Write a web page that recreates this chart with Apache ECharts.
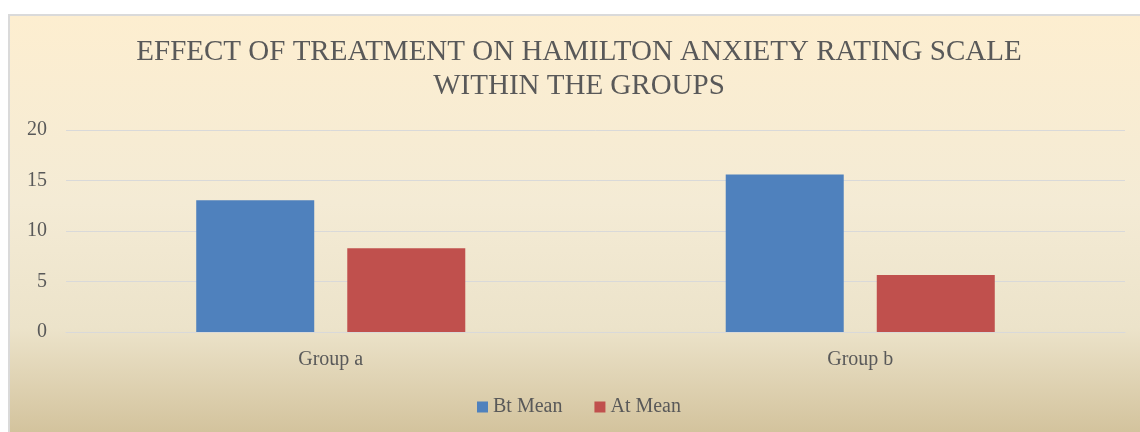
<!DOCTYPE html>
<html>
<head>
<meta charset="utf-8">
<script src="https://cdn.jsdelivr.net/npm/echarts@6/dist/echarts.min.js"></script>
<style>
  html, body { margin: 0; padding: 0; background: #fff; overflow: hidden; }
  #chart {
    position: absolute;
    left: 8px;
    top: 14px;
    width: 1130px;
    height: 416px;
    border-left: 2px solid #dadada;
    border-top: 2px solid #dadada;
  }
</style>
</head>
<body>
<div id="chart"></div>
<script>
const categories = ['Group a', 'Group b'];
const btMean = [13.05, 15.6];
const atMean = [8.3, 5.65];
const yTicks = { min: 0, max: 20, interval: 5 };

const serif = '"Liberation Serif", "Times New Roman", serif';
const textColor = '#595959';

const chart = echarts.init(document.getElementById('chart'), undefined, { renderer: 'canvas' });

const option = {
  backgroundColor: new echarts.graphic.LinearGradient(0, 0, 0, 1, [
    { offset: 0, color: '#fdeed0' },
    { offset: 0.45, color: '#f4ebd5' },
    { offset: 0.75, color: '#ece3ca' },
    { offset: 1, color: '#d3c39d' }
  ]),
  animation: false,
  title: {
    text: 'EFFECT OF TREATMENT ON HAMILTON ANXIETY RATING SCALE\nWITHIN THE GROUPS',
    left: 564,
    top: 14,
    textAlign: 'center',
    textStyle: {
      fontFamily: serif,
      fontSize: 29,
      fontWeight: 'normal',
      color: textColor,
      lineHeight: 34
    }
  },
  legend: {
    data: ['Bt Mean', 'At Mean'],
    left: 462,
    top: 376,
    itemWidth: 11,
    itemHeight: 11,
    itemGap: 32,
    icon: 'rect',
    textStyle: { fontFamily: serif, fontSize: 20, color: textColor }
  },
  grid: { left: 56, right: 15, top: 114, bottom: 100 },
  xAxis: {
    type: 'category',
    data: categories,
    axisLine: { show: true, lineStyle: { color: '#d9d9d9', width: 1 } },
    axisTick: { show: false },
    axisLabel: { fontFamily: serif, fontSize: 20, color: textColor, margin: 18 }
  },
  yAxis: {
    type: 'value',
    min: yTicks.min,
    max: yTicks.max,
    interval: yTicks.interval,
    axisLine: { show: false },
    axisTick: { show: false },
    axisLabel: { fontFamily: serif, fontSize: 20, color: textColor, margin: 19 },
    splitLine: { lineStyle: { color: '#d9d9d9', width: 1 } }
  },
  series: [
    {
      name: 'Bt Mean',
      type: 'bar',
      data: btMean,
      barWidth: 118,
      barGap: '28%',
      itemStyle: { color: '#4f81bd' }
    },
    {
      name: 'At Mean',
      type: 'bar',
      data: atMean,
      barWidth: 118,
      barGap: '28%',
      itemStyle: { color: '#c0504d' }
    }
  ]
};

chart.setOption(option);
</script>
</body>
</html>
